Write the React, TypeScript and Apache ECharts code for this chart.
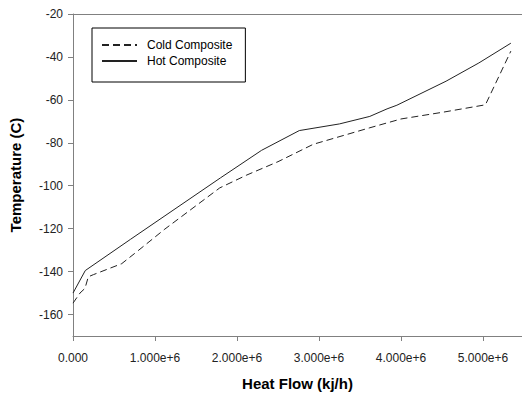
import React, { useEffect, useRef } from "react";
import * as echarts from "echarts";

const xTicks = [0, 1e6, 2e6, 3e6, 4e6, 5e6];
const yTicks = [-160, -140, -120, -100, -80, -60, -40, -20];

const coldX = [0, 0.085e6, 0.146e6, 0.187e6, 0.25e6, 0.594e6, 0.75e6, 1.12e6, 1.79e6, 2.12e6, 2.5e6, 2.93e6, 3.62e6, 4.0e6, 4.52e6, 5.03e6, 5.34e6];
const coldT = [-154.7, -150, -147.8, -142.4, -141.4, -136.3, -131.6, -120.2, -101, -95, -88.8, -80.7, -73, -68.9, -65.7, -62.3, -37.3];

const hotX = [0, 0.15e6, 0.7e6, 1.8e6, 2.3e6, 2.76e6, 3.25e6, 3.62e6, 3.83e6, 3.95e6, 4.55e6, 4.95e6, 5.34e6];
const hotT = [-150, -139.5, -125, -96.3, -83.5, -74.3, -71.2, -67.7, -64.2, -62.5, -51.3, -42.8, -33.6];

const font = "Arial, 'Liberation Sans', sans-serif";

export default function App() {
  const ref = useRef<HTMLDivElement>(null);
  useEffect(() => {
    if (!ref.current) return;
    const chart = echarts.init(ref.current, undefined, { renderer: "svg" });
    const axisLineColor = "#808080";
    chart.setOption({
      animation: false,
      backgroundColor: "#fff",
      textStyle: { fontFamily: font },
      grid: { left: 73, top: 14, right: 0, bottom: 56, containLabel: false },
      legend: {
        orient: "vertical",
        left: 92,
        top: 28,
        backgroundColor: "#fff",
        borderColor: "#000",
        borderWidth: 1,
        borderRadius: 0,
        padding: [11, 13, 15, 9],
        itemWidth: 35,
        itemHeight: 14,
        itemGap: 4,
        itemStyle: { opacity: 0 },
        textStyle: { fontFamily: font, fontSize: 12, color: "#000", padding: [0, 0, 0, 5] },
        data: ["Cold Composite", "Hot Composite"],
      },
      xAxis: [
        {
          type: "value",
          min: 0,
          max: 5.476e6,
          name: "Heat Flow (kj/h)",
          nameLocation: "middle",
          nameGap: 40,
          nameTextStyle: { fontFamily: font, fontSize: 15, fontWeight: "bold", color: "#000" },
          splitLine: { show: false },
          axisLine: { show: true, lineStyle: { color: axisLineColor, width: 1 } },
          axisTick: { show: true, length: 5, customValues: xTicks, lineStyle: { color: axisLineColor } },
          axisLabel: {
            customValues: xTicks,
            margin: 16,
            fontFamily: font,
            fontSize: 12,
            color: "#222",
            formatter: (v: number) => (v === 0 ? "0.000" : (v / 1e6).toFixed(3) + "e+6"),
          },
        },
        {
          type: "value",
          position: "top",
          min: 0,
          max: 5.476e6,
          splitLine: { show: false },
          axisLine: { show: true, lineStyle: { color: axisLineColor, width: 1 } },
          axisTick: { show: false },
          axisLabel: { show: false },
        },
      ],
      yAxis: {
        type: "value",
        min: -170,
        max: -20,
        name: "Temperature (C)",
        nameLocation: "middle",
        nameGap: 50,
        nameTextStyle: { fontFamily: font, fontSize: 15, fontWeight: "bold", color: "#000" },
        splitLine: { show: false },
        axisLine: { show: true, lineStyle: { color: axisLineColor, width: 1 } },
        axisTick: { show: true, length: 5, customValues: yTicks, lineStyle: { color: axisLineColor } },
        axisLabel: { customValues: yTicks, margin: 10, fontFamily: font, fontSize: 12, color: "#222" },
      },
      series: [
        {
          name: "Cold Composite",
          type: "line",
          xAxisIndex: 0,
          symbol: "none",
          data: coldX.map((x, i) => [x, coldT[i]]),
          lineStyle: { color: "#222", width: 1, type: [7, 4] },
          itemStyle: { color: "#222" },
        },
        {
          name: "Hot Composite",
          type: "line",
          xAxisIndex: 0,
          symbol: "none",
          data: hotX.map((x, i) => [x, hotT[i]]),
          lineStyle: { color: "#222", width: 1, type: "solid" },
          itemStyle: { color: "#222" },
        },
      ],
    });
    return () => chart.dispose();
  }, []);
  return <div ref={ref} style={{ width: 522, height: 396, position: "absolute", left: 0, top: 0 }} />;
}
